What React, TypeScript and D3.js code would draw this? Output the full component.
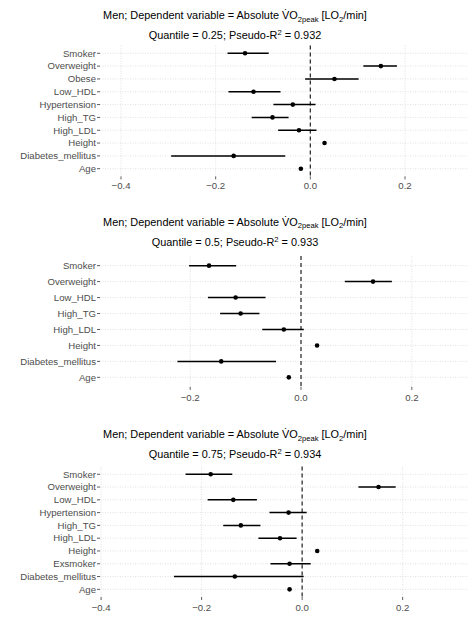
import React from 'react';
import * as d3 from 'd3';

// Panel 1: quantile 0.25
const vars1 = ['Smoker', 'Overweight', 'Obese', 'Low_HDL', 'Hypertension', 'High_TG', 'High_LDL', 'Height', 'Diabetes_mellitus', 'Age'];
const est1 = [-0.138, 0.149, 0.051, -0.12, -0.037, -0.08, -0.024, 0.03, -0.162, -0.02];
const lo1 = [-0.175, 0.112, -0.011, -0.173, -0.078, -0.124, -0.068, 0.029, -0.294, -0.021];
const hi1 = [-0.088, 0.183, 0.102, -0.063, 0.011, -0.046, 0.013, 0.031, -0.053, -0.019];

// Panel 2: quantile 0.5
const vars2 = ['Smoker', 'Overweight', 'Low_HDL', 'High_TG', 'High_LDL', 'Height', 'Diabetes_mellitus', 'Age'];
const est2 = [-0.166, 0.13, -0.118, -0.109, -0.031, 0.029, -0.144, -0.022];
const lo2 = [-0.202, 0.079, -0.168, -0.146, -0.07, 0.028, -0.223, -0.023];
const hi2 = [-0.117, 0.164, -0.064, -0.075, 0.005, 0.03, -0.045, -0.021];

// Panel 3: quantile 0.75
const vars3 = ['Smoker', 'Overweight', 'Low_HDL', 'Hypertension', 'High_TG', 'High_LDL', 'Height', 'Exsmoker', 'Diabetes_mellitus', 'Age'];
const est3 = [-0.182, 0.152, -0.137, -0.027, -0.122, -0.044, 0.03, -0.025, -0.134, -0.025];
const lo3 = [-0.232, 0.112, -0.188, -0.065, -0.157, -0.087, 0.029, -0.063, -0.255, -0.026];
const hi3 = [-0.139, 0.186, -0.09, 0.009, -0.083, -0.011, 0.031, 0.017, 0.003, -0.024];

const quantiles = ['0.25', '0.5', '0.75'];
const pseudoR2 = ['0.932', '0.933', '0.934'];
const xTicks1 = [-0.4, -0.2, 0.0, 0.2];
const xTicks2 = [-0.2, 0.0, 0.2];
const xTicks3 = [-0.4, -0.2, 0.0, 0.2];

const font = '"Liberation Sans", Arial, sans-serif';
const axisGrey = '#4d4d4d';

interface PanelProps {
  vars: string[];
  est: number[];
  lo: number[];
  hi: number[];
  quantile: string;
  r2: string;
  ticks: number[];
  xDomain: [number, number];
  titleY: number;
  top: number;
  bottom: number;
  tickLabelY: number;
}

const Panel: React.FC<PanelProps> = ({ vars, est, lo, hi, quantile, r2, ticks, xDomain, titleY, top, bottom, tickLabelY }) => {
  const left = 100;
  const right = 468;
  const x = d3.scaleLinear().domain(xDomain).range([left, right]);
  const y = d3.scalePoint<string>().domain(vars).range([top, bottom]).padding(0.6);
  const cx = 235;

  return (
    <g fontFamily={font}>
      <text x={cx} y={titleY} textAnchor="middle" fontSize={10.9} fill="#000">
        Men; Dependent variable = Absolute V&#775;O
        <tspan fontSize={7.6} dy={2.5}>2peak</tspan>
        <tspan dy={-2.5}> [LO</tspan>
        <tspan fontSize={7.6} dy={2.5}>2</tspan>
        <tspan dy={-2.5}>/min]</tspan>
      </text>
      <text x={cx} y={titleY + 20} textAnchor="middle" fontSize={10.9} fill="#000">
        Quantile = {quantile}; Pseudo-R
        <tspan fontSize={7.6} dy={-4}>2</tspan>
        <tspan dy={4}> = {r2}</tspan>
      </text>

      {/* grid */}
      {ticks.map(t => (
        <line key={'gx' + t} x1={x(t)} x2={x(t)} y1={top} y2={bottom}
          stroke="#d9d9d9" strokeWidth={0.8} strokeDasharray="1,1.5" />
      ))}
      {vars.map(v => (
        <line key={'gy' + v} x1={left} x2={right} y1={y(v)} y2={y(v)}
          stroke="#d9d9d9" strokeWidth={0.8} strokeDasharray="1,1.5" />
      ))}

      {/* zero reference */}
      <line x1={x(0)} x2={x(0)} y1={top} y2={bottom} stroke="#333" strokeWidth={1.3} strokeDasharray="4,3" />

      {/* intervals and estimates */}
      {vars.map((v, i) => (
        <g key={'m' + v}>
          <line x1={x(lo[i])} x2={x(hi[i])} y1={y(v)} y2={y(v)} stroke="#000" strokeWidth={1.5} />
          <circle cx={x(est[i])} cy={y(v)} r={2.3} fill="#000" />
        </g>
      ))}

      {/* y axis */}
      {vars.map(v => (
        <g key={'ya' + v}>
          <line x1={left - 3} x2={left} y1={y(v)} y2={y(v)} stroke="#333" strokeWidth={0.8} />
          <text x={left - 4} y={(y(v) || 0) + 3.3} textAnchor="end" fontSize={9.6} fill={axisGrey}>{v}</text>
        </g>
      ))}

      {/* x axis */}
      {ticks.map(t => (
        <g key={'xa' + t}>
          <line x1={x(t)} x2={x(t)} y1={bottom} y2={bottom + 3} stroke="#333" strokeWidth={0.8} />
          <text x={x(t)} y={tickLabelY + 3.3} textAnchor="middle" fontSize={9.6} fill={axisGrey}>
            {d3.format('.1f')(t)}
          </text>
        </g>
      ))}
    </g>
  );
};

export default function App() {
  return (
    <div style={{ position: 'absolute', left: 0, top: 0, background: '#fff' }}>
      <svg width={474} height={631} style={{ display: 'block' }}>
        <rect width={474} height={631} fill="#fff" />
        <Panel vars={vars1} est={est1} lo={lo1} hi={hi1} quantile={quantiles[0]} r2={pseudoR2[0]}
          ticks={xTicks1} xDomain={[-0.4444, 0.3331]} titleY={19} top={45.6} bottom={176.4} tickLabelY={185.7} />
        <Panel vars={vars2} est={est2} lo={lo2} hi={hi2} quantile={quantiles[1]} r2={pseudoR2[1]}
          ticks={xTicks2} xDomain={[-0.3628, 0.3014]} titleY={225.5} top={256.1} bottom={386.9} tickLabelY={397.7} />
        <Panel vars={vars3} est={est3} lo={lo3} hi={hi3} quantile={quantiles[2]} r2={pseudoR2[2]}
          ticks={xTicks3} xDomain={[-0.4022, 0.330]} titleY={438} top={466.6} bottom={597} tickLabelY={607.7} />
      </svg>
    </div>
  );
}
